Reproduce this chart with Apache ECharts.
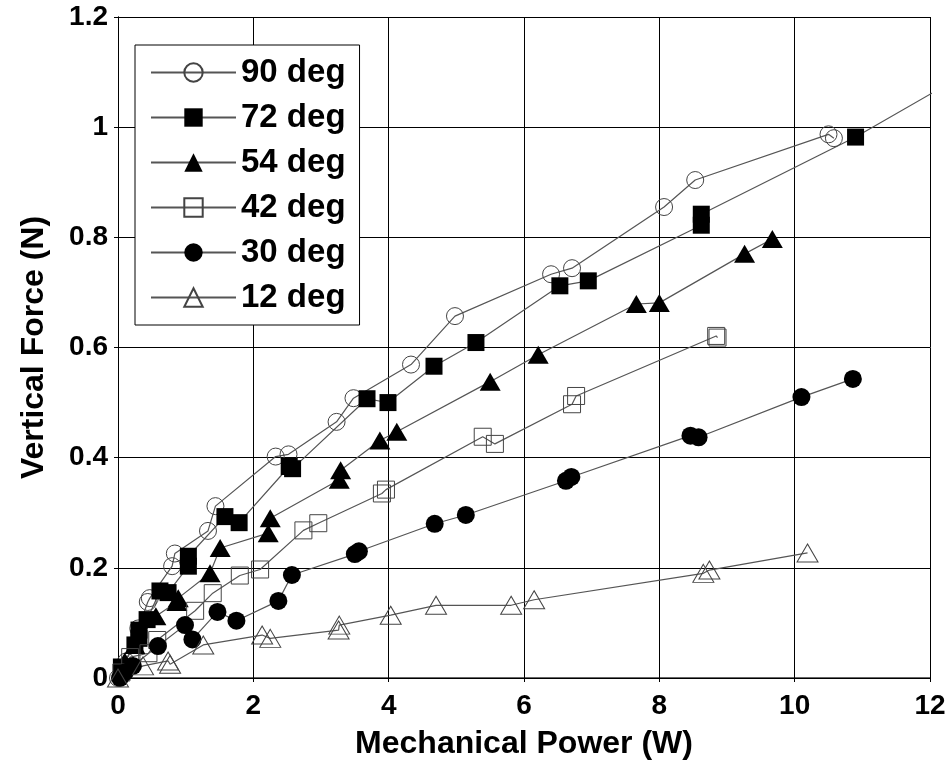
<!DOCTYPE html>
<html>
<head>
<meta charset="utf-8">
<script src="https://cdn.jsdelivr.net/npm/echarts@6/dist/echarts.min.js"></script>
<style>
  html, body { margin: 0; padding: 0; background: #fff; }
  #chart { width: 951px; height: 765px; }
</style>
</head>
<body>
<div id="chart"></div>
<script>
// data: [mechanical power (W), vertical force (N)]
const deg90 = [[0, 0], [0.12, 0.03], [0.3, 0.09], [0.44, 0.138], [0.47, 0.145], [0.8, 0.203], [0.84, 0.226],
  [1.33, 0.267], [1.44, 0.312], [2.33, 0.402], [2.52, 0.406], [3.23, 0.465], [3.48, 0.508], [4.33, 0.569],
  [4.98, 0.657], [6.4, 0.733], [6.71, 0.744], [8.07, 0.855], [8.53, 0.904], [10.5, 0.987], [10.58, 0.98]];
const deg72 = [[0.05, 0.02], [0.25, 0.06], [0.31, 0.072], [0.31, 0.087], [0.43, 0.106], [0.62, 0.158],
  [0.74, 0.155], [1.04, 0.203], [1.04, 0.221], [1.58, 0.293], [1.79, 0.282], [2.53, 0.384], [2.58, 0.38],
  [3.68, 0.507], [3.99, 0.5], [4.67, 0.566], [5.29, 0.609], [6.53, 0.712], [6.95, 0.721], [8.62, 0.822],
  [8.62, 0.842], [10.9, 0.982], [12.5, 1.095]];
const deg54 = [[0.1, 0.03], [0.25, 0.06], [0.56, 0.112], [0.87, 0.138], [0.89, 0.145], [1.36, 0.19],
  [1.51, 0.236], [2.22, 0.263], [2.25, 0.29], [3.27, 0.36], [3.29, 0.377], [3.87, 0.431], [4.12, 0.447],
  [5.5, 0.538], [6.21, 0.587], [7.66, 0.679], [8.0, 0.681], [9.26, 0.77], [9.67, 0.797]];
const deg42 = [[0.05, 0.01], [0.18, 0.038], [0.45, 0.045], [0.58, 0.069], [1.14, 0.122], [1.4, 0.154],
  [1.8, 0.186], [2.1, 0.197], [2.74, 0.268], [2.96, 0.281], [3.9, 0.335], [3.96, 0.342], [5.39, 0.438],
  [5.57, 0.425], [6.71, 0.497], [6.77, 0.512], [8.84, 0.621], [8.86, 0.618]];
const deg30 = [[0.03, 0.0], [0.1, 0.01], [0.22, 0.022], [0.59, 0.058], [0.99, 0.096], [1.1, 0.07],
  [1.47, 0.12], [1.75, 0.104], [2.37, 0.14], [2.57, 0.187], [3.5, 0.225], [3.56, 0.23], [4.68, 0.28],
  [5.14, 0.296], [6.62, 0.358], [6.7, 0.365], [8.46, 0.44], [8.58, 0.437], [10.1, 0.51], [10.86, 0.543]];
const deg12 = [[0, 0], [0.37, 0.022], [0.74, 0.031], [0.77, 0.025], [1.26, 0.06], [2.13, 0.078],
  [2.25, 0.072], [3.26, 0.087], [3.27, 0.096], [4.03, 0.114], [4.7, 0.132], [5.81, 0.132], [6.15, 0.142],
  [8.65, 0.19], [8.74, 0.196], [10.19, 0.227]];

const seriesNames = ['90 deg', '72 deg', '54 deg', '42 deg', '30 deg', '12 deg'];
const xTicks = { min: 0, max: 12, interval: 2 };
const yTicks = { min: 0, max: 1.2, interval: 0.2 };

const chart = echarts.init(document.getElementById('chart'));
const font = 'Liberation Sans, Arial, sans-serif';

const hollow = { color: 'rgba(255,255,255,0)', borderColor: '#444', borderWidth: 1 };
const solid = { color: '#000' };

function makeSeries(name, data, symbol, size, style) {
  return {
    name: name,
    type: 'line',
    data: data,
    symbol: symbol,
    symbolSize: size,
    showAllSymbol: true,
    clip: true,
    lineStyle: { color: '#555', width: 1.2 },
    itemStyle: style,
    emphasis: { disabled: true },
    animation: false
  };
}

const tickAxisX = {
  type: 'value', min: xTicks.min, max: xTicks.max, interval: xTicks.interval,
  axisLine: { show: true, lineStyle: { color: '#000', width: 1 } },
  axisTick: { show: true, inside: true, length: 4, lineStyle: { color: '#000' } },
  splitLine: { show: false }
};
const tickAxisY = {
  type: 'value', min: yTicks.min, max: yTicks.max, interval: yTicks.interval,
  axisLine: { show: true, lineStyle: { color: '#000', width: 1 } },
  axisTick: { show: true, inside: true, length: 4, lineStyle: { color: '#000' } },
  splitLine: { show: false }
};

chart.setOption({
  backgroundColor: '#fff',
  animation: false,
  grid: { left: 118, right: 21, top: 17, bottom: 85 },
  legend: {
    data: seriesNames,
    orient: 'vertical',
    left: 135,
    top: 45,
    padding: [11, 14, 11, 15],
    itemWidth: 85,
    itemHeight: 23,
    itemGap: 12,
    backgroundColor: '#fff',
    borderColor: '#000',
    borderWidth: 1,
    textStyle: { fontFamily: font, fontSize: 33, fontWeight: 'bold', color: '#000' }
  },
  xAxis: [
    Object.assign({}, tickAxisX, {
      position: 'bottom',
      name: 'Mechanical Power (W)',
      nameLocation: 'middle',
      nameGap: 50,
      nameTextStyle: { fontFamily: font, fontSize: 32, fontWeight: 'bold', color: '#000' },
      axisLine: { show: true, lineStyle: { color: '#666', width: 2 } },
      axisLabel: { fontFamily: font, fontSize: 28, fontWeight: 'bold', color: '#000', margin: 14 },
      splitLine: { show: true, lineStyle: { color: '#000', width: 1 } }
    }),
    Object.assign({}, tickAxisX, { position: 'top', axisLabel: { show: false } })
  ],
  yAxis: [
    Object.assign({}, tickAxisY, {
      position: 'left',
      name: 'Vertical Force (N)',
      nameLocation: 'middle',
      nameGap: 68,
      nameTextStyle: { fontFamily: font, fontSize: 32, fontWeight: 'bold', color: '#000' },
      axisLabel: { fontFamily: font, fontSize: 28, fontWeight: 'bold', color: '#000', margin: 10 },
      splitLine: { show: true, lineStyle: { color: '#000', width: 1 } }
    }),
    Object.assign({}, tickAxisY, { position: 'right', axisLabel: { show: false } })
  ],
  series: [
    makeSeries(seriesNames[0], deg90, 'circle', 17, hollow),
    makeSeries(seriesNames[1], deg72, 'rect', 17, solid),
    makeSeries(seriesNames[2], deg54, 'triangle', [21, 18], solid),
    makeSeries(seriesNames[3], deg42, 'rect', 17, hollow),
    makeSeries(seriesNames[4], deg30, 'circle', 18, solid),
    makeSeries(seriesNames[5], deg12, 'triangle', [21, 18], hollow)
  ]
});
</script>
</body>
</html>
